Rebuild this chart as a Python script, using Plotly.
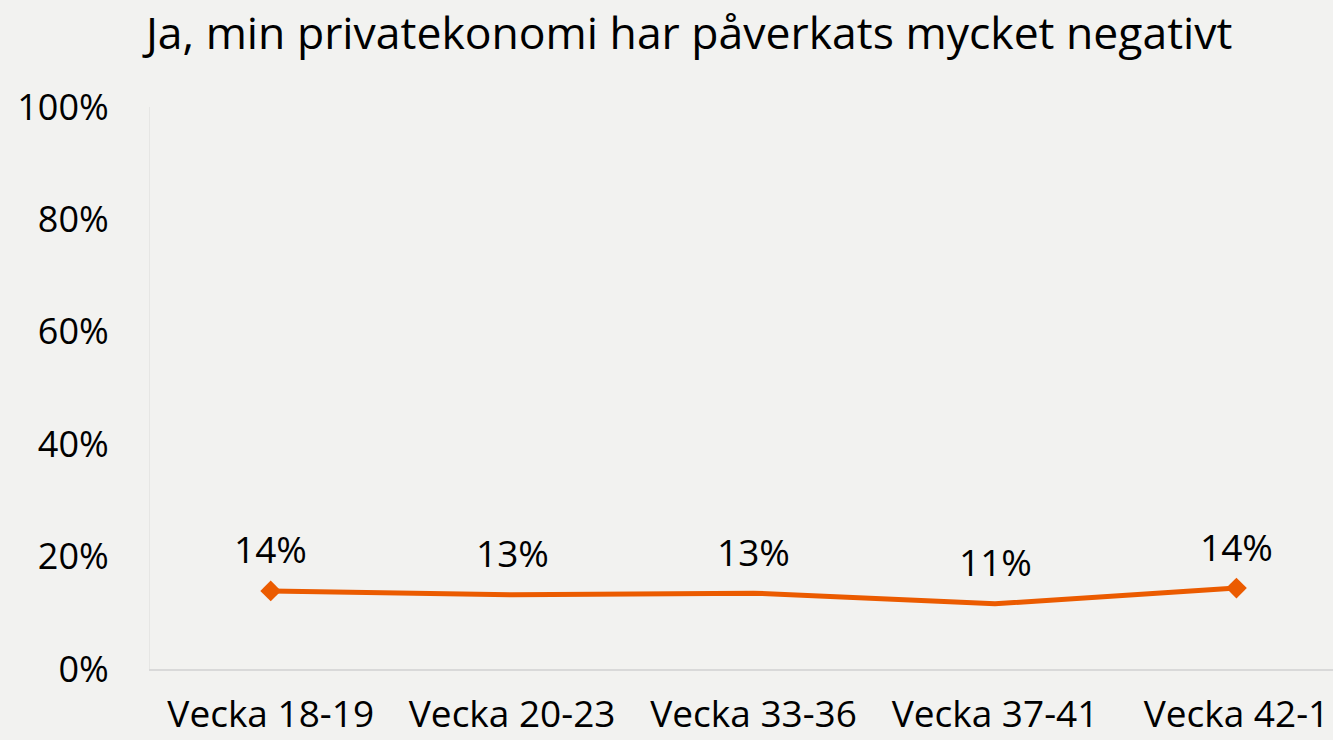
import plotly.graph_objects as go

categories = ["Vecka 18-19", "Vecka 20-23", "Vecka 33-36", "Vecka 37-41", "Vecka 42-1"]
values = [13.9, 13.2, 13.5, 11.6, 14.4]
labels = ["14%", "13%", "13%", "11%", "14%"]
marker_symbols = ["diamond", "circle", "circle", "circle", "diamond"]
marker_sizes = [16, 0, 0, 0, 16]

title_text = "Ja, min privatekonomi har påverkats mycket negativt"
y_ticks = [0, 20, 40, 60, 80, 100]

FONT = "Open Sans"
ORANGE = "#eb5b00"
BG = "#f2f2f0"

fig = go.Figure()
fig.add_trace(go.Scatter(
    x=list(range(len(categories))), y=values, mode="lines+markers",
    line=dict(color=ORANGE, width=5),
    marker=dict(symbol=marker_symbols, size=marker_sizes, color=ORANGE, opacity=1,
                line=dict(width=0)),
    hoverinfo="skip", showlegend=False,
))

for i, (v, t) in enumerate(zip(values, labels)):
    fig.add_annotation(x=i, y=v, text=t, showarrow=False, yshift=42,
                       font=dict(family=FONT, size=37, color="#000000"))

fig.update_layout(
    width=1333, height=740,
    paper_bgcolor=BG, plot_bgcolor=BG,
    margin=dict(l=150, r=0, t=107, b=71, autoexpand=False),
    title=dict(text=title_text, x=0.517, xanchor="center", y=0.955, yanchor="middle",
               font=dict(family=FONT, size=44.5, color="#000000")),
    xaxis=dict(
        tickmode="array", tickvals=list(range(len(categories))), ticktext=categories,
        range=[-0.5, 4.4], showgrid=False, zeroline=False, automargin=False,
        showline=True, linecolor="#d9d9d9", linewidth=2,
        tickfont=dict(family=FONT, size=37, color="#000000"),
        ticks="", ticklabelstandoff=12,
    ),
    yaxis=dict(
        range=[0, 100], tickmode="array", tickvals=y_ticks,
        ticktext=[f"{t}%" for t in y_ticks], automargin=False,
        showgrid=False, zeroline=False, showline=True, linecolor="#e6e6e4", linewidth=1,
        tickfont=dict(family=FONT, size=36, color="#000000"),
        ticks="", ticklabelstandoff=33,
    ),
)

fig.write_html("out.html", config={"displayModeBar": False},
               post_script="document.body.style.margin='0';document.body.style.overflow='hidden';")
